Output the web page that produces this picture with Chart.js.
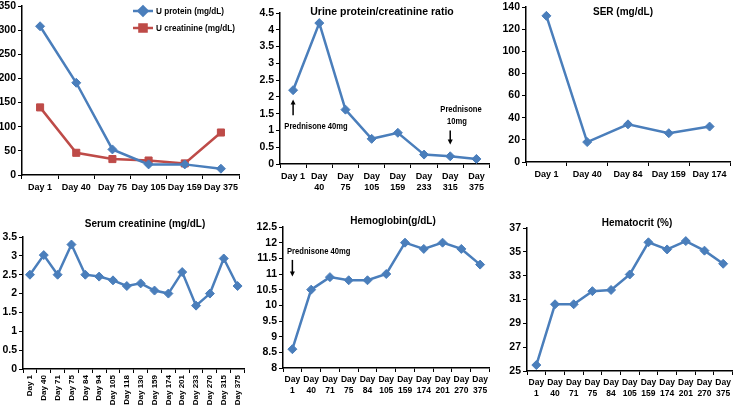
<!DOCTYPE html>
<html>
<head>
<meta charset="utf-8">
<script src="https://cdn.jsdelivr.net/npm/chart.js@4.4.1/dist/chart.umd.min.js"></script>
<style>
  html, body { margin: 0; padding: 0; background: #fff; }
  body { width: 738px; height: 406px; position: relative; overflow: hidden; }
  canvas { position: absolute; }
</style>
</head>
<body>
<canvas id="c1" width="245" height="200" style="left:0;top:0"></canvas>
<canvas id="c2" width="250" height="200" style="left:245px;top:0"></canvas>
<canvas id="c3" width="248" height="200" style="left:490px;top:0"></canvas>
<canvas id="c4" width="250" height="206" style="left:0;top:200px"></canvas>
<canvas id="c5" width="250" height="206" style="left:245px;top:200px"></canvas>
<canvas id="c6" width="248" height="206" style="left:490px;top:200px"></canvas>
<script>
// urine values
var urineDays = ['Day 1', 'Day 40', 'Day 75', 'Day 105', 'Day 159', 'Day 375'];
var uProtein = [308, 191, 53, 22, 22, 13];
var uCreatinine = [140, 46, 33, 30, 24, 88];

// protein / creatinine ratio
var ratioDays = ['Day 1', 'Day 40', 'Day 75', 'Day 105', 'Day 159', 'Day 233', 'Day 315', 'Day 375'];
var ratioVals = [2.2, 4.2, 1.62, 0.75, 0.93, 0.28, 0.23, 0.15];

// SER
var serDays = ['Day 1', 'Day 40', 'Day 84', 'Day 159', 'Day 174'];
var serVals = [132, 18, 34, 26, 32];

// serum creatinine
var scrDays = ['Day 1', 'Day 40', 'Day 71', 'Day 75', 'Day 84', 'Day 94', 'Day 105', 'Day 118',
  'Day 130', 'Day 159', 'Day 174', 'Day 201', 'Day 233', 'Day 270', 'Day 315', 'Day 375'];
var scrVals = [2.5, 3.02, 2.5, 3.3, 2.5, 2.45, 2.35, 2.2, 2.27, 2.08, 2.0, 2.57, 1.68, 2.0, 2.93, 2.2];

// hemoglobin and hematocrit
var bloodDays = ['Day 1', 'Day 40', 'Day 71', 'Day 75', 'Day 84', 'Day 105', 'Day 159', 'Day 174', 'Day 201', 'Day 270', 'Day 375'];
var hbVals = [8.6, 10.5, 10.9, 10.8, 10.8, 11.0, 12.0, 11.8, 12.0, 11.8, 11.3];
var hctVals = [25.5, 30.6, 30.6, 31.7, 31.8, 33.1, 35.8, 35.2, 35.9, 35.1, 34.0];

var BLUE = '#4a7ebb';
var RED = '#be4b48';
var FONT = "'Liberation Sans', Arial, sans-serif";

Chart.defaults.color = '#000';
Chart.defaults.font.family = FONT;
Chart.defaults.font.weight = 'bold';

function series(label, data, color, style, r) {
  return {
    label: label, data: data, borderColor: color, backgroundColor: color, borderWidth: 2.5,
    pointStyle: style, pointRadius: r, pointHoverRadius: r, pointBorderWidth: 1,
    pointBackgroundColor: color, pointBorderColor: color, tension: 0
  };
}

function twoLines(days, keepFirst) {
  return function (v, i) {
    var d = days[i];
    if (keepFirst && i === 0) return d;
    return d.split(' ');
  };
}

// sx < 1 squeezes the text sideways (no narrow font installed)
function text(ctx, s, x, y, font, align, sx) {
  sx = sx || 1;
  ctx.save();
  ctx.font = font;
  ctx.fillStyle = '#000';
  ctx.textAlign = align || 'center';
  ctx.textBaseline = 'middle';
  ctx.translate(x, y);
  ctx.scale(sx, 1);
  ctx.fillText(s, 0, 0);
  ctx.restore();
}

function arrow(ctx, x, y1, y2) {
  var dir = y2 > y1 ? 1 : -1;
  ctx.save();
  ctx.strokeStyle = '#000';
  ctx.fillStyle = '#000';
  ctx.lineWidth = 1.5;
  ctx.beginPath();
  ctx.moveTo(x, y1);
  ctx.lineTo(x, y2 - dir * 3);
  ctx.stroke();
  ctx.beginPath();
  ctx.moveTo(x, y2);
  ctx.lineTo(x - 2.5, y2 - dir * 5);
  ctx.lineTo(x + 2.5, y2 - dir * 5);
  ctx.closePath();
  ctx.fill();
  ctx.restore();
}

// one panel: fixed axis sizes so the plot area lands where it is in the picture
function makeChart(id, o) {
  return new Chart(document.getElementById(id), {
    type: 'line',
    data: { labels: o.labels, datasets: o.datasets },
    options: {
      responsive: false,
      animation: false,
      layout: { padding: o.pad },
      plugins: { legend: { display: false }, tooltip: { enabled: false } },
      scales: {
        x: {
          offset: true,
          grid: { offset: true, drawOnChartArea: false, drawTicks: true, tickLength: 4, color: '#000', lineWidth: 1 },
          border: { color: '#000', width: 1.5 },
          ticks: Object.assign({ autoSkip: false, maxRotation: 0, minRotation: 0, padding: 3,
            font: { size: 9, weight: 'bold' } }, o.xTicks || {}),
          afterFit: function (s) {
            s.height = o.xH;
            s.paddingLeft = 0; s.paddingRight = 0; s.paddingTop = 0; s.paddingBottom = 0;
          }
        },
        y: {
          min: o.yMin, max: o.yMax,
          grid: { drawOnChartArea: false, drawTicks: true, tickLength: 4, color: '#000', lineWidth: 1 },
          border: { color: '#000', width: 1.5 },
          ticks: {
            stepSize: o.yStep, padding: 2, font: { size: 10.5, weight: 'bold' },
            callback: function (v) { return String(+v.toFixed(2)); }
          },
          afterFit: function (s) {
            s.width = o.yW;
            s.paddingLeft = 0; s.paddingRight = 0; s.paddingTop = 0; s.paddingBottom = 0;
          }
        }
      }
    },
    plugins: [{
      id: 'extras',
      afterDraw: function (chart) {
        if (o.draw) o.draw(chart.ctx, chart.scales.x, chart.scales.y, chart);
      }
    }]
  });
}

// panel 1: urine protein and creatinine
makeChart('c1', {
  labels: urineDays,
  datasets: [
    series('U protein (mg/dL)', uProtein, BLUE, 'rectRot', 4.5),
    series('U creatinine (mg/dL)', uCreatinine, RED, 'rect', 5)
  ],
  yMin: 0, yMax: 350, yStep: 50, yW: 22, xH: 25,
  pad: { left: 0, top: 5, right: 5, bottom: 0 },
  draw: function (ctx) {
    var items = [[BLUE, 'rectRot', 4.5, 'U protein (mg/dL)', 11], [RED, 'rect', 5, 'U creatinine (mg/dL)', 28]];
    items.forEach(function (it) {
      ctx.save();
      ctx.strokeStyle = it[0];
      ctx.fillStyle = it[0];
      ctx.lineWidth = 2.5;
      ctx.beginPath();
      ctx.moveTo(133, it[4]);
      ctx.lineTo(153, it[4]);
      ctx.stroke();
      Chart.helpers.drawPoint(ctx, { pointStyle: it[1], radius: it[2], borderWidth: 1 }, 143, it[4]);
      ctx.fill();
      ctx.restore();
      text(ctx, it[3], 156, it[4], 'bold 9.5px ' + FONT, 'left', 0.86);
    });
  }
});

// panel 2: protein/creatinine ratio
makeChart('c2', {
  labels: ratioDays,
  datasets: [series('ratio', ratioVals, BLUE, 'rectRot', 4.5)],
  yMin: 0, yMax: 4.5, yStep: 0.5, yW: 35, xH: 36,
  pad: { left: 0, top: 13, right: 5, bottom: 0 },
  xTicks: { callback: twoLines(ratioDays, true) },
  draw: function (ctx, x, y) {
    text(ctx, 'Urine protein/creatinine ratio', 137, 12, 'bold 10.5px ' + FONT);
    var x0 = x.getPixelForValue(0);
    arrow(ctx, x0, y.getPixelForValue(1.45), y.getPixelForValue(1.92));
    text(ctx, 'Prednisone 40mg', 71, y.getPixelForValue(1.13), 'bold 9.5px ' + FONT, 'center', 0.8);
    var x6 = x.getPixelForValue(6);
    arrow(ctx, x6, y.getPixelForValue(1.0), y.getPixelForValue(0.58));
    text(ctx, 'Prednisone', 216, y.getPixelForValue(1.63), 'bold 9.5px ' + FONT, 'center', 0.8);
    text(ctx, '10mg', 212, y.getPixelForValue(1.27), 'bold 9.5px ' + FONT, 'center', 0.8);
  }
});

// panel 3: SER
makeChart('c3', {
  labels: serDays,
  datasets: [series('SER', serVals, BLUE, 'rectRot', 4.5)],
  yMin: 0, yMax: 140, yStep: 20, yW: 36, xH: 38,
  pad: { left: 0, top: 7, right: 8, bottom: 0 },
  draw: function (ctx) {
    text(ctx, 'SER (mg/dL)', 133, 12, 'bold 10px ' + FONT);
  }
});

// panel 4: serum creatinine
makeChart('c4', {
  labels: scrDays,
  datasets: [series('Serum creatinine', scrVals, BLUE, 'rectRot', 4.5)],
  yMin: 0, yMax: 3.5, yStep: 0.5, yW: 23, xH: 37,
  pad: { left: 0, top: 37, right: 3, bottom: 0 },
  xTicks: { maxRotation: 90, minRotation: 90, padding: 2, font: { size: 8, weight: 'bold' } },
  draw: function (ctx) {
    text(ctx, 'Serum creatinine (mg/dL)', 145, 24, 'bold 10px ' + FONT);
  }
});

// panel 5: hemoglobin
makeChart('c5', {
  labels: bloodDays,
  datasets: [series('Hemoglobin', hbVals, BLUE, 'rectRot', 4.5)],
  yMin: 8, yMax: 12.5, yStep: 0.5, yW: 38, xH: 38,
  pad: { left: 0, top: 27, right: 0, bottom: 0 },
  xTicks: { callback: twoLines(bloodDays, false), font: { size: 8.5, weight: 'bold' } },
  draw: function (ctx, x, y) {
    text(ctx, 'Hemoglobin(g/dL)', 148, 21, 'bold 10px ' + FONT);
    text(ctx, 'Prednisone 40mg', 42, y.getPixelForValue(11.73), 'bold 9.5px ' + FONT, 'left', 0.8);
    arrow(ctx, x.getPixelForValue(0), y.getPixelForValue(11.45), y.getPixelForValue(10.92));
  }
});

// panel 6: hematocrit
makeChart('c6', {
  labels: bloodDays,
  datasets: [series('Hematocrit', hctVals, BLUE, 'rectRot', 4.5)],
  yMin: 25, yMax: 37, yStep: 2, yW: 37, xH: 35,
  pad: { left: 0, top: 28, right: 3, bottom: 0 },
  xTicks: { callback: twoLines(bloodDays, false), font: { size: 8.5, weight: 'bold' } },
  draw: function (ctx) {
    text(ctx, 'Hematocrit (%)', 147, 23, 'bold 10px ' + FONT);
  }
});
</script>
</body>
</html>
